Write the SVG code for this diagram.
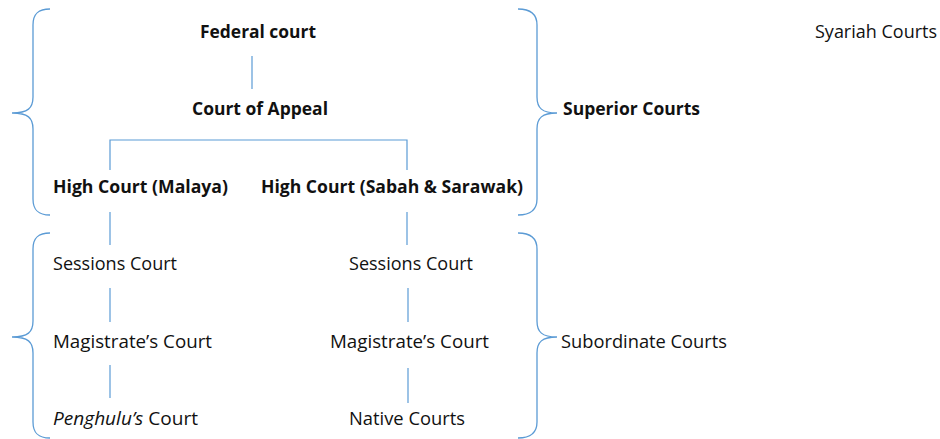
<svg xmlns="http://www.w3.org/2000/svg" width="940" height="439" viewBox="0 0 940 439">
<style>
.ln{stroke:#5B9BD5;stroke-width:1.2;fill:none}
.br{stroke:#5B9BD5;stroke-width:1.3;fill:none}
text{font-family:"Open Sans","Noto Sans","Liberation Sans",sans-serif;font-size:18px;fill:#111}
.b{font-weight:bold}
</style>
<rect width="940" height="439" fill="#fff"/>
<g id="connectors">
<line class="ln" x1="252" y1="56" x2="252" y2="89"/>
<polyline class="ln" points="110,170 110,140 407,140 407,170"/>
<line class="ln" x1="110" y1="212" x2="110" y2="245"/>
<line class="ln" x1="407" y1="212" x2="407" y2="245"/>
<line class="ln" x1="110" y1="288" x2="110" y2="322"/>
<line class="ln" x1="408" y1="288" x2="408" y2="322"/>
<line class="ln" x1="110" y1="365" x2="110" y2="398"/>
<line class="ln" x1="408" y1="368" x2="408" y2="403"/>
</g>
<g id="braces">
<path class="br" d="M50,9 C38,9 33,14 33,25 L33,97 C33,108 28,113 12,113 C28,113 33,118 33,129 L33,199 C33,210 38,215 50,215"/>
<path class="br" d="M518,9 C530,9 537,14 537,25 L537,97 C537,108 542,113 557,113 C542,113 537,118 537,129 L537,199 C537,210 530,215 518,215"/>
<path class="br" d="M50,233 C38,233 33,238 33,249 L33,321 C33,332 28,337 12,337 C28,337 33,342 33,353 L33,422 C33,433 38,438 50,438"/>
<path class="br" d="M518,233 C530,233 537,238 537,249 L537,321 C537,332 542,337 557,337 C542,337 537,342 537,353 L537,422 C537,433 530,438 518,438"/>
</g>
<g id="federal"><text class="b" x="200" y="38" textLength="116" lengthAdjust="spacingAndGlyphs">Federal court</text></g>
<g id="appeal"><text class="b" x="192" y="115" textLength="136" lengthAdjust="spacingAndGlyphs">Court of Appeal</text></g>
<g id="hc-malaya"><text class="b" x="53" y="193" textLength="175" lengthAdjust="spacingAndGlyphs">High Court (Malaya)</text></g>
<g id="hc-sabah"><text class="b" x="261" y="193" textLength="262" lengthAdjust="spacingAndGlyphs">High Court (Sabah &amp; Sarawak)</text></g>
<g id="superior"><text class="b" x="563" y="115" textLength="137" lengthAdjust="spacingAndGlyphs">Superior Courts</text></g>
<g id="syariah"><text x="815" y="38" textLength="122" lengthAdjust="spacingAndGlyphs">Syariah Courts</text></g>
<g id="sessions-l"><text x="53" y="270" textLength="124" lengthAdjust="spacingAndGlyphs">Sessions Court</text></g>
<g id="sessions-r"><text x="349" y="270" textLength="124" lengthAdjust="spacingAndGlyphs">Sessions Court</text></g>
<g id="magistrate-l"><text x="53" y="348" textLength="159" lengthAdjust="spacingAndGlyphs">Magistrate’s Court</text></g>
<g id="magistrate-r"><text x="330" y="348" textLength="159" lengthAdjust="spacingAndGlyphs">Magistrate’s Court</text></g>
<g id="subordinate"><text x="561" y="348" textLength="166" lengthAdjust="spacingAndGlyphs">Subordinate Courts</text></g>
<g id="penghulu"><text x="53" y="425" textLength="145" lengthAdjust="spacingAndGlyphs"><tspan font-style="italic">Penghulu’s</tspan> Court</text></g>
<g id="native"><text x="349" y="425" textLength="116" lengthAdjust="spacingAndGlyphs">Native Courts</text></g>
</svg>
